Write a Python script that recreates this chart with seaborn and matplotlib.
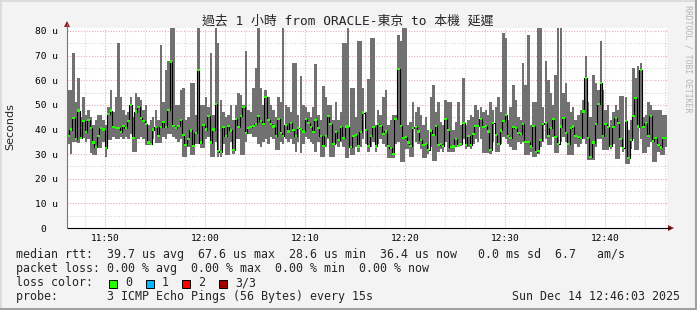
import numpy as np
import pandas as pd
import matplotlib
matplotlib.use("Agg")
import matplotlib.pyplot as plt
import matplotlib.dates as mdates
from matplotlib.patches import Rectangle, Polygon
from matplotlib.lines import Line2D
import seaborn as sns

# ---------------- data ----------------
start_time = "2025-12-14 11:46:12"
step_seconds = 15

median_us = [
    37.2, 40.0, 44.6, 36.0, 47.7, 36.5, 43.6, 38.8, 44.0, 40.5, 34.7, 33.0, 37.4, 40.5, 40.0, 32.4, 46.4, 47.7, 41.0, 40.5,
    40.5, 38.8, 41.5, 40.5, 43.6, 50.0, 36.5, 47.3, 49.0, 44.6, 43.6, 42.3, 34.7, 34.2, 40.0, 41.0, 37.2, 41.0, 43.2, 41.0,
    48.0, 67.6, 41.5, 40.5, 41.5, 44.0, 37.8, 33.8, 36.0, 39.6, 33.4, 38.5, 64.2, 34.7, 41.9, 40.0, 45.3, 34.7, 40.0, 50.4,
    31.4, 31.0, 41.0, 37.2, 41.5, 39.6, 31.8, 44.2, 41.0, 45.3, 49.0, 38.5, 40.5, 41.0, 41.5, 42.3, 45.3, 43.6, 42.3, 53.1,
    43.9, 42.3, 41.2, 37.2, 44.2, 38.5, 37.4, 41.9, 39.2, 42.8, 39.9, 37.2, 40.5, 40.1, 39.2, 44.2, 42.6, 41.0, 38.8, 43.9,
    40.5, 37.2, 33.4, 37.2, 45.5, 42.3, 34.2, 38.8, 35.8, 41.0, 36.5, 41.2, 41.2, 32.8, 37.4, 37.8, 33.1, 38.8, 46.9, 39.9,
    33.4, 37.4, 41.0, 33.1, 42.3, 41.5, 38.2, 39.2, 33.4, 32.4, 30.0, 44.2, 64.5, 41.5, 36.5, 36.9, 34.7, 33.4, 40.5, 41.0,
    39.2, 35.8, 33.8, 34.2, 31.8, 39.6, 37.8, 41.5, 33.8, 34.2, 33.4, 44.2, 39.9, 32.8, 33.1, 36.2, 33.4, 34.2, 42.8, 33.8,
    37.2, 33.8, 38.2, 41.5, 41.5, 44.2, 41.0, 41.5, 39.2, 31.8, 42.8, 37.8, 34.2, 39.6, 43.6, 45.9, 37.2, 36.5, 41.0, 40.5,
    38.5, 38.2, 42.3, 35.1, 35.1, 33.1, 41.5, 30.7, 31.1, 35.8, 42.3, 42.8, 37.4, 40.5, 44.2, 36.9, 34.2, 41.2, 44.6, 38.5,
    34.2, 40.5, 41.2, 37.2, 36.9, 36.5, 47.3, 60.8, 36.5, 29.0, 34.7, 42.3, 50.4, 58.8, 37.4, 42.3, 41.0, 33.4, 41.0, 44.6,
    42.6, 36.1, 32.4, 43.6, 28.6, 35.8, 45.3, 52.7, 41.2, 64.2, 41.0, 42.6, 37.2, 45.3, 35.5, 36.5, 33.8, 32.7, 36.5, 36.4,
]

low_us = [
    34, 30, 35, 35, 34.5, 36, 36.5, 35, 36, 30.4, 29.7, 29.7, 32.4, 32.4, 35, 28.8, 35.8, 35.8, 37, 36,
    36, 37, 36, 37, 36, 38, 30.8, 30.8, 36, 37, 36, 33.8, 33.8, 33.8, 36, 34.5, 34.5, 34.5, 37, 36,
    38, 38, 37, 36, 35, 36, 29, 29, 33, 29.7, 29.7, 34, 34, 32.4, 32.4, 36, 37, 28.8, 28.8, 35,
    28.8, 28.8, 34, 29.7, 29.7, 35, 30, 36, 36, 29.7, 29.7, 35, 38.2, 38.2, 37, 37, 34, 33, 35, 36,
    34, 37, 36, 31.8, 31.8, 35, 34, 36, 35, 36, 34, 31, 35, 30.4, 34, 37, 36, 35, 34, 31,
    35, 29, 29, 33, 36, 29, 29, 34, 33, 35, 33, 28.4, 28.4, 29.7, 29.7, 33, 31, 33, 36, 34,
    31, 33, 35, 31, 34, 36, 34, 33, 28.4, 28.4, 28.4, 34, 35, 26.8, 26.8, 32, 32, 29, 29, 35,
    34, 32, 28.4, 28.4, 30, 33, 27.3, 27.3, 31, 32, 31, 35, 31, 31, 31, 33, 33, 33.1, 36, 32,
    33, 32, 34, 36, 35, 36, 30.4, 30.4, 30.4, 30, 35, 31, 31, 34, 37, 36, 34, 33, 31.8, 31.8,
    35, 34, 35, 29.7, 29.7, 31, 29, 29, 30, 33, 35, 36, 33.8, 33.8, 37, 30.4, 30.4, 35, 37, 35,
    29.7, 29.7, 29.7, 34, 33, 34, 36, 34, 27.7, 27.7, 27.7, 33, 36, 36, 31.8, 31.8, 31.8, 32, 34, 28,
    28, 33, 31, 26.1, 26.1, 32, 36, 31.8, 31.8, 36, 30.4, 30.4, 33, 35, 26.8, 26.8, 31, 29.7, 29.7, 33,
]

high_us = [
    56, 56, 71, 51, 61, 45, 53, 46, 48, 45, 42, 44, 46, 46, 44, 42, 49, 56, 47, 53,
    75, 53, 48, 46, 47, 53, 45, 55, 53, 52, 48, 50, 42, 44, 45, 48, 44, 74.5, 51, 64,
    68, 82, 82, 50, 50, 56, 57, 44, 45, 59, 59, 46, 82, 50, 50, 53, 49, 71, 46, 82,
    75, 52, 47, 45, 46, 50, 44, 50, 55, 54, 50, 72, 48, 47, 57, 65, 82, 57, 50, 56,
    53, 50, 48, 45, 53, 51, 82, 50, 49, 47, 67, 67, 46, 61.6, 50, 49, 47, 45, 49, 66.6,
    46, 44, 57.6, 53, 50, 50, 44, 51, 44, 47, 75, 75, 82, 57, 57, 45, 76, 76, 57, 47,
    60.5, 77, 77, 42, 48, 46, 53, 56, 42, 44, 46, 46, 78.5, 76, 82, 82, 42, 43, 51, 47,
    49, 46, 42, 45, 40, 53, 58, 47, 51, 43, 42, 52, 51, 51, 40, 43, 51, 42, 61, 42,
    44, 46, 45, 50, 48, 49, 47, 48, 46, 51, 48, 49, 53, 47, 79, 77, 44, 49, 58, 52,
    45, 44, 67, 58, 78.5, 42, 51, 51, 82, 82, 49, 68, 60, 55, 50, 62, 82, 82, 55, 59,
    51, 47, 49, 44, 46, 48, 52, 70, 51, 45, 62, 59, 56, 76, 56, 48, 50, 44, 47, 50,
    48, 53.5, 53.5, 53, 40, 44, 65, 61, 65.7, 67, 45, 46, 51, 50, 48, 48, 48, 48, 46, 46,
]

y_ticks = [0, 10, 20, 30, 40, 50, 60, 70, 80]
y_tick_labels = ["0  ", "10 u", "20 u", "30 u", "40 u", "50 u", "60 u", "70 u", "80 u"]

title = "過去 1 小時 from ORACLE-東京 to 本機 延遲"
y_label = "Seconds"
side_label = "RRDTOOL / TOBI OETIKER"
row_rtt = "median rtt:  39.7 us avg  67.6 us max  28.6 us min  36.4 us now   0.0 ms sd  6.7   am/s"
row_loss = "packet loss: 0.00 % avg  0.00 % max  0.00 % min  0.00 % now"
row_color = "loss color:"
loss_labels = ["0", "1", "2", "3/3"]
loss_colors = ["#26ff00", "#00b8ff", "#ff0000", "#a00000"]
row_probe = "probe:       3 ICMP Echo Pings (56 Bytes) every 15s"
stamp = "Sun Dec 14 12:46:03 2025"

# ---------------- style ----------------
W, H = 697, 310
BG = "#f3f3f3"
SMOKE = "#717171"
MAJ = "#e8a8a8"
MIN = "#d2d2d2"

sns.set_style("white")
plt.rcParams["font.family"] = ["DejaVu Sans Mono", "Noto Sans CJK TC"]

def fx(x):
    return x / W

def fy(y):
    return 1 - y / H

fig = plt.figure(figsize=(W / 100, H / 100), dpi=100, facecolor=BG)
ax = fig.add_axes([fx(67), fy(228), 600 / W, 200 / H])
ax.set_facecolor("white")

times = pd.date_range(start_time, periods=len(median_us), freq=f"{step_seconds}s")
xnum = mdates.date2num(times.to_pydatetime())
step = step_seconds / 86400.0
med = np.array(median_us)
lo = np.array(low_us)
hi = np.array(high_us)

ax.set_axisbelow(True)
ax.bar(xnum, hi - lo, bottom=lo, width=step, align="edge", color=SMOKE, linewidth=0, zorder=2)
df = pd.DataFrame({"t": xnum + step / 2, "median": med})
sns.lineplot(data=df, x="t", y="median", ax=ax, color="black", lw=0.8,
             drawstyle="steps-mid", estimator=None, zorder=3)
ax.bar(xnum, 0.85, bottom=med - 0.42, width=step, align="edge", color="#26ff00",
       linewidth=0, zorder=4)

ax.set_xlim(xnum[0], xnum[-1] + step)
ax.set_ylim(0, 200 / 2.4625)
ax.set_xlabel("")
ax.set_ylabel("")

ax.xaxis.set_major_locator(mdates.MinuteLocator(byminute=range(0, 60, 10)))
ax.xaxis.set_minor_locator(mdates.MinuteLocator(byminute=range(0, 60, 2)))
ax.xaxis.set_major_formatter(mdates.DateFormatter("%H:%M"))
ax.set_yticks(y_ticks)
ax.set_yticklabels(y_tick_labels)
ax.set_yticks([5, 15, 25, 35, 45, 55, 65, 75], minor=True)

dot = (0, (1, 1.6))
ax.grid(True, which="major", color=MAJ, linestyle=dot, lw=0.75)
ax.grid(True, which="minor", color=MIN, linestyle=dot, lw=0.75)

ax.tick_params(axis="both", which="both", direction="out", length=1.5, width=0.6,
               color="#444444", labelsize=6.8, labelcolor="black")
ax.tick_params(axis="x", which="major", pad=3)
ax.tick_params(axis="y", which="major", pad=5)
for s in ax.spines.values():
    s.set_visible(False)

# axes lines and arrows
fig.add_artist(Line2D([fx(66.5), fx(670)], [fy(228), fy(228)], color="black", lw=0.8))
fig.add_artist(Line2D([fx(67), fx(67)], [fy(228), fy(24)], color="#777777", lw=0.8))
fig.add_artist(Polygon([[fx(668), fy(225)], [fx(674), fy(228)], [fx(668), fy(231)]],
                       closed=True, color="#8b1a1a", lw=0))
fig.add_artist(Polygon([[fx(64), fy(27)], [fx(67), fy(21)], [fx(70), fy(27)]],
                       closed=True, color="#8b1a1a", lw=0))

# frame
fig.add_artist(Line2D([0, 1], [fy(0.5), fy(0.5)], color="#d8d8d8", lw=1.2))
fig.add_artist(Line2D([fx(0.5), fx(0.5)], [0, 1], color="#d8d8d8", lw=1.2))
fig.add_artist(Line2D([0, 1], [fy(308.5), fy(308.5)], color="#a0a0a0", lw=2.2))
fig.add_artist(Line2D([fx(695.5), fx(695.5)], [0, 1], color="#a0a0a0", lw=2.2))

# texts
fig.text(fx(348), fy(21.5), title, ha="center", va="center", fontsize=9.3)
fig.text(fx(10), fy(127), y_label, rotation=90, ha="center", va="center",
         fontsize=8, family="DejaVu Sans")
fig.text(fx(688), fy(59), side_label, rotation=270, ha="center", va="center",
         fontsize=5.9, color="#b4b4b4")

LS = 8.35
fig.text(fx(16), fy(258), row_rtt, ha="left", va="baseline", fontsize=LS)
fig.text(fx(16), fy(272), row_loss, ha="left", va="baseline", fontsize=LS)
fig.text(fx(16), fy(286), row_color, ha="left", va="baseline", fontsize=LS)
fig.text(fx(16), fy(300), row_probe, ha="left", va="baseline", fontsize=LS)
fig.text(fx(680), fy(300), stamp, ha="right", va="baseline", fontsize=LS)

box_x = [109, 146, 182, 219]
lab_x = [125, 162, 198, 235]
for bx, lx, lab, col in zip(box_x, lab_x, loss_labels, loss_colors):
    fig.add_artist(Rectangle((fx(bx), fy(287.5)), 8 / W, 8 / H, transform=fig.transFigure,
                             facecolor=col, edgecolor="black", lw=0.7))
    fig.text(fx(lx), fy(286), lab, ha="left", va="baseline", fontsize=LS)

fig.savefig("out.png", dpi=100, facecolor=BG)
